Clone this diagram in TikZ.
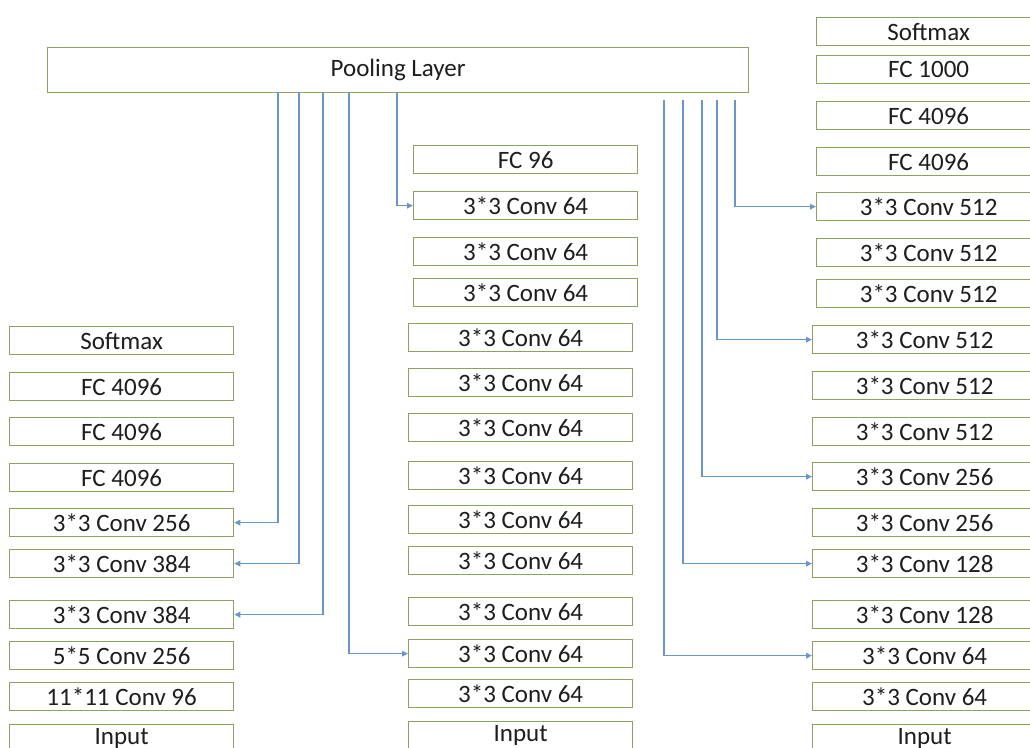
\documentclass[tikz,border=0pt]{standalone}
\usepackage{fontspec}
\setmainfont{Carlito}
\usetikzlibrary{arrows.meta}
\definecolor{boxline}{RGB}{140,162,98}
\definecolor{connblue}{RGB}{105,152,200}
\definecolor{txt}{RGB}{30,30,30}
\tikzset{
  blk/.style={draw=boxline, line width=1.3pt, fill=white, anchor=north west,
    minimum width=224pt, minimum height=28pt, inner sep=0pt, text=txt,
    font=\fontsize{25}{28}\selectfont},
  poolbox/.style={draw=boxline, line width=1.3pt, fill=white, anchor=north west,
    minimum width=701pt, minimum height=45pt, inner sep=0pt, text=txt,
    font=\fontsize{25}{28}\selectfont},
  conn/.style={draw=connblue, line width=1.6pt,
    -{Triangle[length=6pt,width=5.5pt]}}
}
\begin{document}
\begin{tikzpicture}[x=1pt,y=-1pt]
\useasboundingbox (0,0) rectangle (1030,747);
\clip (0,0) rectangle (1030,747);
\fill[white] (0,0) rectangle (1030,747);

% pooling layer
\node[poolbox] (pool) at (47,47) {Pooling Layer};

% left column
\node[blk] (L1) at (9,326) {Softmax};
\node[blk] (L2) at (9,372) {FC 4096};
\node[blk] (L3) at (9,417) {FC 4096};
\node[blk] (L4) at (9,463) {FC 4096};
\node[blk] (L5) at (9,508) {3*3 Conv 256};
\node[blk] (L6) at (9,549) {3*3 Conv 384};
\node[blk] (L7) at (9,600) {3*3 Conv 384};
\node[blk] (L8) at (9,641) {5*5 Conv 256};
\node[blk] (L9) at (9,682) {11*11 Conv 96};
\node[blk] (L10) at (9,724) {Input};

% middle column
\node[blk] (M1) at (413,145) {FC 96};
\node[blk] (M2) at (413,191) {3*3 Conv 64};
\node[blk] (M3) at (413,237) {3*3 Conv 64};
\node[blk] (M4) at (413,278) {3*3 Conv 64};
\node[blk] (M5) at (408,323) {3*3 Conv 64};
\node[blk] (M6) at (408,368) {3*3 Conv 64};
\node[blk] (M7) at (408,413) {3*3 Conv 64};
\node[blk] (M8) at (408,461) {3*3 Conv 64};
\node[blk] (M9) at (408,505) {3*3 Conv 64};
\node[blk] (M10) at (408,546) {3*3 Conv 64};
\node[blk] (M11) at (408,597) {3*3 Conv 64};
\node[blk] (M12) at (408,639) {3*3 Conv 64};
\node[blk] (M13) at (408,679) {3*3 Conv 64};
\node[blk] (M14) at (408,721) {Input};

% right column
\node[blk] (R1) at (816,17) {Softmax};
\node[blk] (R2) at (816,55) {FC 1000};
\node[blk] (R3) at (816,101) {FC 4096};
\node[blk] (R4) at (816,147) {FC 4096};
\node[blk] (R5) at (816,192) {3*3 Conv 512};
\node[blk] (R6) at (816,238) {3*3 Conv 512};
\node[blk] (R7) at (816,279) {3*3 Conv 512};
\node[blk] (R8) at (812,325) {3*3 Conv 512};
\node[blk] (R9) at (812,371) {3*3 Conv 512};
\node[blk] (R10) at (812,417) {3*3 Conv 512};
\node[blk] (R11) at (812,462) {3*3 Conv 256};
\node[blk] (R12) at (812,508) {3*3 Conv 256};
\node[blk] (R13) at (812,549) {3*3 Conv 128};
\node[blk] (R14) at (812,600) {3*3 Conv 128};
\node[blk] (R15) at (812,641) {3*3 Conv 64};
\node[blk] (R16) at (812,682) {3*3 Conv 64};
\node[blk] (R17) at (812,724) {Input};

% connector start points
\coordinate (pa) at (278,92);
\coordinate (pb) at (299,92);
\coordinate (pc) at (323,92);
\coordinate (pd) at (349,92);
\coordinate (pe) at (397,92);
\coordinate (qa) at (664,100);
\coordinate (qb) at (683,100);
\coordinate (qc) at (702,100);
\coordinate (qd) at (717,100);
\coordinate (qe) at (735,100);

\draw[conn] (pa) |- (L5);
\draw[conn] (pb) |- (L6);
\draw[conn] (pc) |- (L7);
\draw[conn] (pd) |- (M12);
\draw[conn] (pe) |- (M2);
\draw[conn] (qa) |- (R15);
\draw[conn] (qb) |- (R13);
\draw[conn] (qc) |- (R11);
\draw[conn] (qd) |- (R8);
\draw[conn] (qe) |- (R5);
\end{tikzpicture}
\end{document}
